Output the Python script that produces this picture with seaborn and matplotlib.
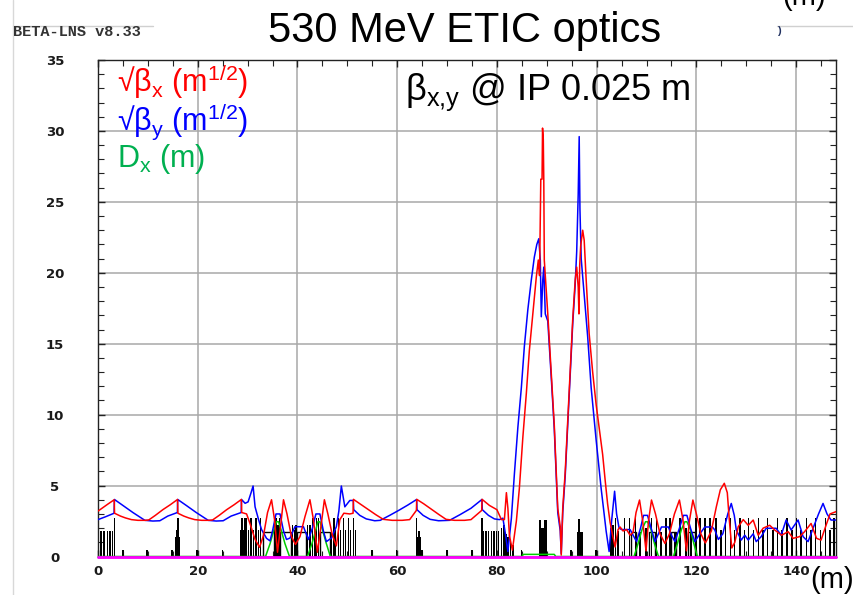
import matplotlib
matplotlib.use("Agg")
import matplotlib.pyplot as plt
import seaborn as sns
import pandas as pd
from matplotlib.ticker import MultipleLocator
from matplotlib.lines import Line2D

# ---------------- data ----------------
s_bx = [0.0, 1.0, 2.0, 3.25, 3.32, 4.5, 5.5, 6.7, 8.0, 9.5, 10.2, 11.5, 13.0, 14.5, 15.95, 16.02,
        17.2, 18.2, 19.4, 20.8, 22.3, 23.0, 24.3, 25.8, 27.3, 28.75, 28.82, 29.8, 30.5, 31.5, 32.4,
        33.2, 34.0, 34.8, 35.4, 36.0, 36.6, 37.2, 37.9, 38.8, 39.6, 40.5, 41.5, 42.5, 43.2, 44.0,
        44.7, 45.4, 46.1, 47.0, 47.8, 48.5, 49.3, 50.5, 51.15, 51.22, 52.5, 54.0, 55.7, 57.2, 59.0,
        61.0, 62.5, 63.85, 63.92, 65.3, 66.8, 68.4, 69.8, 71.5, 73.5, 74.8, 76.95, 77.02, 78.5,
        80.0, 80.9, 81.5, 81.9, 82.2, 82.5, 83.1, 83.9, 84.5, 85.2, 85.9, 86.5, 87.2, 87.9, 88.3,
        88.55, 88.8, 89.05, 89.15, 89.3, 89.4, 89.5, 90.2, 90.9, 91.5, 91.9, 92.2, 92.7, 92.9, 93.2,
        93.7, 94.2, 94.7, 95.2, 95.7, 96.0, 96.3, 96.45, 96.6, 96.8, 97.2, 97.5, 97.9, 98.5, 99.2,
        99.9, 100.6, 101.2, 101.7, 102.2, 102.7, 103.2, 103.7, 104.3, 104.7, 105.3, 106.0, 106.7,
        107.3, 107.9, 108.6, 109.2, 109.9, 110.4, 111.0, 111.8, 112.7, 113.7, 114.6, 115.6, 116.6,
        117.3, 118.0, 118.6, 119.3, 120.0, 120.9, 121.8, 123.0, 124.0, 124.8, 125.6, 126.2, 126.6,
        127.1, 127.7, 128.4, 129.4, 130.4, 131.4, 132.4, 133.4, 134.7, 135.7, 137.1, 138.4, 139.4,
        140.7, 141.7, 143.0, 144.1, 145.0, 146.1, 146.8, 148.0]
sqrt_bx = [3.2, 3.45, 3.7, 4.0, 3.05, 2.85, 2.72, 2.6, 2.55, 2.55, 2.58, 2.9, 3.3, 3.65, 4.02, 3.05,
           2.85, 2.72, 2.6, 2.55, 2.55, 2.58, 2.9, 3.3, 3.65, 4.02, 3.1, 3.0, 2.3, 1.2, 0.65,
           1.5, 3.1, 4.0, 2.6, 0.3, 2.1, 4.0, 3.0, 1.4, 0.85, 1.4, 2.8, 4.0, 2.6, 0.3,
           2.1, 4.0, 3.0, 1.5, 0.75, 2.6, 3.05, 3.0, 3.05, 4.03, 3.72, 3.35, 2.95, 2.62, 2.55,
           2.55, 2.6, 3.25, 4.03, 3.72, 3.35, 2.95, 2.62, 2.55, 2.55, 2.6, 3.25, 4.03, 3.6,
           3.3, 2.6, 2.6, 4.5, 3.4, 1.5, 0.45, 2.5, 4.8, 8.4, 11.5, 14.5, 17.1, 19.7, 20.9,
           19.8, 26.6, 26.6, 30.2, 29.4, 26.5, 20.9, 17.1, 12.9, 9.3, 6.0, 3.4, 2.1, 0.1, 3.4,
           6.0, 9.6, 13.3, 16.7, 19.5, 20.4, 19.0, 17.1, 20.5, 21.9, 23.0, 22.3, 19.5, 15.7, 13.0,
           10.7, 8.8, 7.2, 5.4, 3.7, 2.4, 1.5, 0.67, 1.9, 2.08, 1.8, 1.9, 1.5,
           1.7, 3.1, 3.98, 2.6, 0.4, 2.5, 3.98, 3.0, 1.6, 0.92, 1.6, 3.0, 3.98,
           2.6, 0.4, 2.5, 3.98, 3.0, 1.6, 0.95, 1.8, 3.5, 4.7, 5.16, 4.5, 2.6,
           0.6, 1.0, 2.1, 2.6, 2.2, 2.57, 1.5, 2.0, 2.2, 1.87, 1.5, 1.75, 1.28,
           1.4, 1.75, 2.33, 1.28, 1.16, 2.3, 3.0, 3.16]

s_by = [0.0, 1.5, 3.22, 3.3, 5.0, 7.0, 9.4, 11.0, 12.4, 14.0, 15.92, 15.98, 17.7, 19.7, 22.1, 23.7,
        25.1, 26.7, 28.72, 28.78, 29.5, 30.1, 30.7, 31.1, 31.5, 32.2, 32.8, 33.8, 34.5, 35.0, 35.7,
        36.5, 37.2, 37.8, 38.5, 39.5, 41.2, 42.2, 43.0, 43.7, 44.5, 45.2, 45.8, 46.8, 47.8, 48.3,
        48.8, 49.5, 50.5, 51.2, 51.28, 52.5, 53.8, 55.5, 56.6, 58.5, 60.3, 62.1, 63.9, 63.97, 65.2,
        66.6, 68.3, 70.5, 72.6, 74.8, 77.0, 77.07, 78.3, 79.5, 80.5, 81.2, 81.7, 82.2, 82.9, 83.5,
        84.2, 84.9, 85.5, 86.2, 86.9, 87.5, 88.0, 88.4, 88.7, 88.9, 89.2, 89.4, 89.7, 90.2, 90.9,
        91.5, 91.9, 92.2, 92.7, 92.9, 93.2, 93.7, 94.2, 94.7, 95.2, 95.7, 96.0, 96.3, 96.5, 96.65,
        96.9, 97.5, 98.2, 98.9, 99.9, 100.9, 101.9, 102.5, 103.0, 103.6, 104.0, 104.5, 105.0, 106.7,
        107.3, 108.0, 108.8, 109.4, 110.2, 111.0, 111.7, 112.4, 113.0, 114.4, 115.0, 115.7, 116.6,
        117.4, 118.1, 118.9, 119.7, 120.7, 121.7, 123.2, 123.7, 124.4, 125.3, 126.3, 127.0, 127.6,
        128.0, 129.0, 129.7, 130.4, 131.4, 132.0, 133.0, 134.0, 136.0, 137.0, 138.0, 139.0, 140.4,
        141.4, 142.4, 143.4, 144.5, 145.4, 146.2, 147.0, 148.0]
sqrt_by = [2.6, 2.8, 3.05, 4.02, 3.6, 3.1, 2.55, 2.5, 2.52, 2.85, 3.1, 4.02, 3.6, 3.1, 2.55, 2.5,
           2.52, 2.85, 3.1, 4.02, 3.75, 3.85, 4.5, 4.97, 3.5, 2.6, 1.9, 1.28, 1.1, 1.8, 3.0,
           3.0, 1.8, 1.2, 1.3, 2.1, 2.1, 1.2, 2.0, 3.0, 3.0, 1.8, 1.05, 1.3, 2.1, 3.2,
           4.97, 3.5, 3.95, 3.95, 3.3, 2.9, 2.65, 2.52, 2.55, 2.9, 3.25, 3.62, 4.02, 3.3, 2.9,
           2.62, 2.52, 2.55, 2.95, 3.4, 4.02, 3.3, 2.9, 2.65, 2.6, 2.7, 1.6, 0.35, 2.7, 5.8,
           9.1, 11.9, 14.8, 17.4, 19.5, 21.1, 22.0, 22.4, 20.9, 16.9, 19.5, 20.4, 17.1, 16.6, 12.6,
           9.0, 5.7, 3.1, 1.8, 0.2, 3.1, 5.7, 9.3, 13.0, 16.4, 19.2, 21.5, 25.5, 29.6, 24.5,
           21.0, 18.5, 15.5, 11.9, 8.2, 4.8, 1.8, 0.35, 2.5, 4.6, 3.0, 2.0, 1.9, 1.9,
           1.5, 1.05, 2.0, 2.9, 2.9, 1.9, 1.05, 1.6, 2.08, 2.08, 1.5, 1.05, 2.0,
           2.9, 2.9, 1.9, 1.05, 1.6, 2.08, 2.08, 1.87, 1.2, 1.6, 3.0, 3.74, 2.9,
           1.87, 1.16, 1.5, 1.16, 1.6, 1.05, 1.4, 1.99, 1.99, 1.5, 2.57, 1.87, 2.57,
           1.4, 1.05, 1.99, 3.0, 3.74, 3.0, 2.57, 2.57]

s_dx = [0.0, 33.6, 34.5, 35.3, 35.8, 36.2, 36.7, 37.5, 38.4, 42.0, 42.9, 43.7, 44.1, 44.5, 45.0,
        45.8, 46.6, 85.0, 85.3, 91.5, 91.8, 107.5, 108.3, 109.1, 109.8, 110.2, 110.9, 111.6, 112.4,
        115.4, 116.2, 117.0, 117.7, 118.1, 118.8, 119.5, 120.2, 148.0]
dx = [0.0, 0.0, 0.9, 1.9, 2.45, 2.45, 1.9, 0.9, 0.0, 0.0, 0.9, 1.9, 2.45, 2.45, 1.9,
      0.9, 0.0, 0.0, 0.15, 0.15, 0.0, 0.0, 0.9, 1.9, 2.45, 2.45, 1.9, 0.9, 0.0,
      0.0, 0.9, 1.9, 2.45, 2.45, 1.9, 0.9, 0.0, 0.0]

# lattice elements (filled bars): position, height, width
elem_s = [0.15, 0.65, 1.2, 1.9, 2.45, 2.95, 3.35,
          5.0, 9.8, 14.8, 19.9, 25.0, 54.9, 59.9, 65.0, 70.0, 75.0, 84.9, 94.9, 99.9,
          15.55, 15.8, 16.0, 16.25,
          28.55, 28.85, 29.15, 29.45, 29.75, 30.2, 30.7, 31.2, 31.7, 32.2, 32.6,
          35.45, 35.75, 36.05, 36.4, 39.0, 39.4, 39.75,
          42.0, 42.5, 43.0, 43.5, 43.85, 44.2,
          46.8, 47.3, 47.7, 48.2, 48.6, 49.2, 49.7, 50.2, 50.7, 51.2, 51.7,
          63.85, 64.1, 64.35, 64.55,
          77.0, 77.3, 77.8, 78.3, 78.9, 79.4, 79.9, 80.3, 80.9, 81.4, 81.8, 82.2, 82.7, 83.2,
          88.65, 89.2, 89.75, 96.65, 96.5,
          102.85, 103.3, 103.75, 104.2,
          105.6, 106.6, 107.8, 111.0, 112.0, 113.9, 114.7, 116.7, 119.9, 120.7, 121.7, 122.7, 123.9,
          108.7, 112.9, 115.7, 118.9, 109.9, 117.9,
          124.9, 125.8, 126.8, 127.6, 128.7, 129.6, 130.5, 131.5, 132.5, 133.4, 134.3, 135.4,
          136.3, 137.2, 138.2, 139.2, 140.1, 141.0, 142.1, 143.0, 143.9, 144.9, 145.9, 146.8, 147.6]
elem_h = [1.8, 1.8, 1.8, 1.8, 1.8, 1.8, 2.69,
          0.45, 0.45, 0.45, 0.45, 0.45, 0.45, 0.45, 0.45, 0.45, 0.45, 0.45, 0.45, 0.45,
          1.4, 1.85, 2.69, 1.4,
          1.85, 2.69, 1.85, 2.69, 2.69, 1.85, 2.69, 1.85, 2.69, 1.85, 2.69,
          2.69, 2.69, 2.22, 2.69, 2.22, 1.85, 2.22,
          2.22, 2.22, 2.69, 1.85, 2.69, 2.69,
          1.85, 2.69, 1.85, 2.69, 1.85, 2.69, 1.85, 2.69, 1.85, 2.69, 1.85,
          2.69, 1.4, 1.8, 1.4,
          2.69, 1.8, 1.8, 1.8, 1.8, 1.8, 1.8, 1.8, 2.0, 2.2, 1.6, 1.4, 1.0, 0.8,
          2.6, 2.0, 2.6, 1.75, 2.65,
          2.0, 2.2, 2.69, 1.8,
          2.69, 2.69, 2.69, 2.69, 2.69, 2.69, 2.69, 2.69, 2.69, 2.69, 2.69, 2.69, 2.69,
          1.75, 1.75, 1.75, 1.75, 2.0, 2.0,
          1.87, 2.69, 2.69, 1.87, 2.69, 1.87, 2.69, 1.87, 2.69, 1.87, 2.69, 1.87,
          2.69, 1.87, 2.69, 1.87, 2.69, 1.87, 2.69, 1.87, 2.69, 1.87, 2.69, 1.87, 2.69]
elem_w = [0.3, 0.3, 0.35, 0.3, 0.35, 0.25, 0.3,
          0.3, 0.3, 0.3, 0.3, 0.3, 0.3, 0.3, 0.3, 0.3, 0.3, 0.3, 0.3, 0.3,
          0.25, 0.25, 0.3, 0.25,
          0.25, 0.3, 0.25, 0.3, 0.3, 0.25, 0.3, 0.25, 0.3, 0.25, 0.3,
          0.3, 0.3, 0.3, 0.3, 0.3, 0.25, 0.3,
          0.3, 0.3, 0.3, 0.25, 0.3, 0.3,
          0.25, 0.3, 0.25, 0.3, 0.25, 0.3, 0.25, 0.3, 0.25, 0.3, 0.25,
          0.3, 0.3, 0.25, 0.25,
          0.3, 0.25, 0.25, 0.25, 0.25, 0.25, 0.25, 0.25, 0.25, 0.25, 0.3, 0.3, 0.3, 0.3,
          0.5, 0.6, 0.5, 1.3, 0.3,
          0.3, 0.4, 0.3, 0.4,
          0.3, 0.3, 0.3, 0.3, 0.3, 0.3, 0.3, 0.3, 0.3, 0.3, 0.3, 0.3, 0.3,
          0.3, 0.3, 0.3, 0.3, 0.5, 0.5,
          0.3, 0.3, 0.3, 0.3, 0.3, 0.3, 0.3, 0.3, 0.3, 0.3, 0.3, 0.3,
          0.3, 0.3, 0.3, 0.3, 0.3, 0.3, 0.3, 0.3, 0.3, 0.3, 0.3, 0.3, 0.3]

# open boxes (sextupole-like): left edge, width, height
box_s = [33.0, 36.5, 40.0, 44.5, 106.8, 110.4, 114.9, 118.4]
box_w = [2.2, 2.3, 1.8, 2.0, 1.0, 1.4, 1.0, 1.4]
box_h = [1.75, 1.75, 1.75, 1.75, 1.75, 1.75, 1.75, 1.75]

x_ticks = [0, 20, 40, 60, 80, 100, 120, 140]
y_ticks = [0, 5, 10, 15, 20, 25, 30, 35]

# ---------------- figure ----------------
sns.set_theme(style="white")
plt.rcParams["font.family"] = ["Liberation Sans", "DejaVu Sans"]
plt.rcParams["mathtext.default"] = "regular"

W, H = 854, 595
fig = plt.figure(figsize=(W / 100, H / 100), dpi=100)
ax = fig.add_axes([98 / W, 38.5 / H, 738 / W, 496.5 / H])

ax.bar(elem_s, elem_h, width=elem_w, color="black", linewidth=0, zorder=2)
ax.bar(box_s, box_h, width=box_w, align="edge", fill=False, edgecolor="black",
       linewidth=1.0, zorder=2)

df_dx = pd.DataFrame({"s": s_dx, "v": dx})
df_by = pd.DataFrame({"s": s_by, "v": sqrt_by})
df_bx = pd.DataFrame({"s": s_bx, "v": sqrt_bx})
sns.lineplot(data=df_dx, x="s", y="v", sort=False, estimator=None, color="#00cc00",
             linewidth=1.1, ax=ax, zorder=3)
sns.lineplot(data=df_by, x="s", y="v", sort=False, estimator=None, color="#0000ff",
             linewidth=1.1, ax=ax, zorder=4)
sns.lineplot(data=df_bx, x="s", y="v", sort=False, estimator=None, color="#ff0000",
             linewidth=1.1, ax=ax, zorder=5)
ax.axhline(0, color="#ff00ff", linewidth=2.0, zorder=6, clip_on=False)

ax.set_xlim(0, 148)
ax.set_ylim(0, 35)
ax.set_xlabel("")
ax.set_ylabel("")
ax.set_xticks(x_ticks)
ax.set_xticklabels([str(v) for v in x_ticks])
ax.set_yticks(y_ticks)
ax.set_yticklabels([str(v) for v in y_ticks])
ax.xaxis.set_minor_locator(MultipleLocator(5))
ax.yaxis.set_minor_locator(MultipleLocator(1))
ax.set_axisbelow(True)
ax.grid(True, which="major", color="#a8a8a8", linewidth=1.1)
ax.grid(False, which="minor")
ax.tick_params(which="both", direction="in", top=True, right=True, bottom=True, left=True,
               color="#222222")
ax.tick_params(which="major", length=5, width=1.0)
ax.tick_params(which="minor", length=4, width=0.8)
ax.tick_params(axis="x", which="major", pad=6)
ax.tick_params(axis="y", which="major", pad=31)
for lab in ax.get_xticklabels() + ax.get_yticklabels():
    lab.set_fontfamily("DejaVu Sans")
    lab.set_fontweight("bold")
    lab.set_fontsize(9.5)
    lab.set_color("#1a1a1a")
for lab in ax.get_yticklabels():
    lab.set_horizontalalignment("center")
for sp in ax.spines.values():
    sp.set_color("#222222")
    sp.set_linewidth(1.0)

def fx(px):
    return px / W

def fy(py):
    return 1 - py / H

# header decorations
fig.add_artist(Line2D([fx(13), fx(13)], [0, 1], color="#d8d8d8", linewidth=1.0))
fig.add_artist(Line2D([fx(13), fx(153)], [fy(26), fy(26)], color="#d0d0d0", linewidth=1.0))
fig.add_artist(Line2D([fx(777), fx(854)], [fy(26), fy(26)], color="#d0d0d0", linewidth=1.0))
fig.text(fx(13), fy(36), "BETA-LNS v8.33", family=["Liberation Mono", "DejaVu Sans Mono"],
         fontweight="bold", fontsize=11, color="#333333", va="baseline")
fig.text(fx(777), fy(34), ")", fontweight="bold", fontsize=8, color="#203060", va="baseline")

fig.text(fx(465), fy(42), "530 MeV ETIC optics", ha="center", va="baseline",
         fontsize=30, color="black")
fig.text(fx(405), fy(100), r"$\beta_{x{,}y}$ @ IP 0.025 m", va="baseline", fontsize=26,
         color="black")

fig.text(fx(117), fy(92), r"√$\beta_x$ (m$^{1/2}$)", va="baseline", fontsize=22, color="#ff0000")
fig.text(fx(117), fy(131), r"√$\beta_y$ (m$^{1/2}$)", va="baseline", fontsize=22, color="#0000ff")
fig.text(fx(117), fy(167), r"D$_x$ (m)", va="baseline", fontsize=22, color="#00b050")

fig.text(fx(782), fy(5), "(m)", va="baseline", fontsize=21, color="black")
fig.text(fx(810), fy(588), "(m)", va="baseline", fontsize=21, color="black")

fig.savefig("out.png", dpi=100)
